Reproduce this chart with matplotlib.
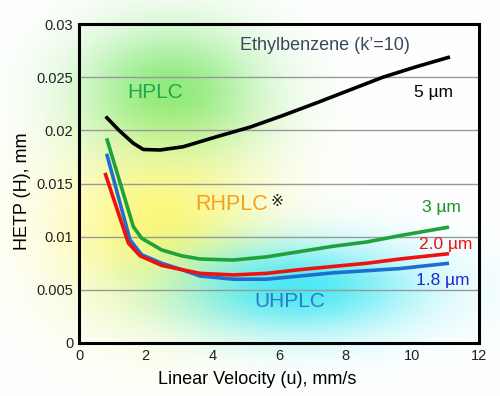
import numpy as np
import matplotlib
matplotlib.use("Agg")
import matplotlib.pyplot as plt

# ---- data ----
u5 = [0.8, 1.2, 1.63, 1.93, 2.43, 3.13, 4.13, 5.13, 6.12, 7.14, 8.13, 9.12, 10.14, 11.13]
h5 = [0.0213, 0.0200, 0.01878, 0.0182, 0.01815, 0.01846, 0.0194, 0.0203, 0.0214, 0.0226, 0.0238, 0.0250, 0.0260, 0.0269]

u3 = [0.83, 1.63, 1.88, 2.48, 3.08, 3.63, 4.63, 5.63, 6.63, 7.63, 8.63, 9.63, 11.1]
h3 = [0.01925, 0.01094, 0.00985, 0.00875, 0.0082, 0.0079, 0.0078, 0.0081, 0.0086, 0.0091, 0.0095, 0.0101, 0.0109]

u20 = [0.78, 1.48, 1.83, 2.48, 3.08, 3.63, 4.63, 5.63, 6.63, 7.63, 8.63, 9.63, 11.1]
h20 = [0.0160, 0.0094, 0.0082, 0.0073, 0.0069, 0.00655, 0.0064, 0.00655, 0.0069, 0.0072, 0.0075, 0.0079, 0.0084]

u18 = [0.83, 1.53, 1.88, 2.48, 3.08, 3.63, 4.63, 5.63, 6.63, 7.63, 8.63, 9.63, 11.1]
h18 = [0.0178, 0.0097, 0.0083, 0.0075, 0.0069, 0.0063, 0.0060, 0.0060, 0.0063, 0.0066, 0.0068, 0.0070, 0.0075]

xticks = [0, 2, 4, 6, 8, 10, 12]
yticks = [0, 0.005, 0.01, 0.015, 0.02, 0.025, 0.03]
ytick_labels = ["0", "0.005", "0.01", "0.015", "0.02", "0.025", "0.03"]

plt.rcParams['font.family'] = ['Liberation Sans', 'DejaVu Sans']

W, H = 500, 396
fig = plt.figure(figsize=(5.0, 3.96), dpi=100)

# ---- background glow blobs (figure pixels) ----
yy, xx = np.mgrid[0:H, 0:W].astype(float)
img = np.ones((H, W, 3))

def blob(cx, cy, rx, ry, color, amp):
    global img
    a = amp * np.exp(-(((xx - cx) / rx) ** 2 + ((yy - cy) / ry) ** 2))
    a = np.clip(a, 0, 1)[..., None]
    img = img * (1 - a) + np.array(color)[None, None, :] * a

blob(170, 95, 90, 68, (0.45, 0.90, 0.40), 0.85)
blob(160, 228, 100, 88, (1.0, 0.97, 0.42), 0.9)
blob(295, 288, 120, 45, (0.22, 0.90, 0.95), 0.9)

bg = fig.add_axes([0, 0, 1, 1], zorder=0)
bg.imshow(img, extent=[0, W, H, 0], aspect='auto', interpolation='bilinear')
bg.axis('off')

ax = fig.add_axes([79 / W, 1 - 343 / H, 400 / W, 319 / H], zorder=1)
ax.set_facecolor('none')
ax.set_xlim(0, 12)
ax.set_ylim(0, 0.03)
ax.set_xticks(xticks)
ax.set_yticks(yticks)
ax.set_yticklabels(ytick_labels)
ax.tick_params(length=0, labelsize=10.5, colors='#222222')
ax.tick_params(axis='y', pad=4)
ax.tick_params(axis='x', pad=4)
for s in ax.spines.values():
    s.set_linewidth(2.2)
    s.set_color('black')
for y in yticks[1:-1]:
    ax.axhline(y, color='#999999', lw=1.0, zorder=1)

lw = 2.6
kw = dict(lw=lw, solid_joinstyle='round', solid_capstyle='butt')
ax.plot(u5, h5, color='black', zorder=3, **kw)
ax.plot(u3, h3, color='#1fa23c', zorder=3, **kw)
ax.plot(u18, h18, color='#1e6fd0', zorder=3, **kw)
ax.plot(u20, h20, color='#f01010', zorder=4, **kw)

ax.set_xlabel('Linear Velocity (u), mm/s', fontsize=13)
ax.set_ylabel('HETP (H), mm', fontsize=13)
ax.xaxis.set_label_coords((257 - 79) / 400, (343 - 380) / 319)
ax.xaxis.label.set_va('center')
ax.yaxis.set_label_coords((23 - 79) / 400, (343 - 191) / 319)
ax.yaxis.label.set_va('center')

ax.text(7.38, 0.0280, "Ethylbenzene (k\u2019=10)", color='#3a4a5c', fontsize=13, ha='center', va='center')
ax.text(2.28, 0.0236, "HPLC", color='#1fa84a', fontsize=15, ha='center', va='center')
ax.text(3.5, 0.0130, "RHPLC", color='#f5a01e', fontsize=15.5, ha='left', va='center')
ax.text(5.73, 0.0133, "\u203b", color='#222222', fontsize=11, ha='left', va='center')
ax.text(6.33, 0.0039, "UHPLC", color='#2b7cc8', fontsize=15, ha='center', va='center')
ax.text(10.62, 0.0236, "5 \u00b5m", color='black', fontsize=12.5, ha='center', va='center')
ax.text(10.86, 0.0127, "3 \u00b5m", color='#1a8f2a', fontsize=12.5, ha='center', va='center')
ax.text(11.0, 0.0093, "2.0 \u00b5m", color='#f01010', fontsize=12.5, ha='center', va='center')
ax.text(10.92, 0.0059, "1.8 \u00b5m", color='#1a28d8', fontsize=12.5, ha='center', va='center')

fig.savefig('out.png', dpi=100)
